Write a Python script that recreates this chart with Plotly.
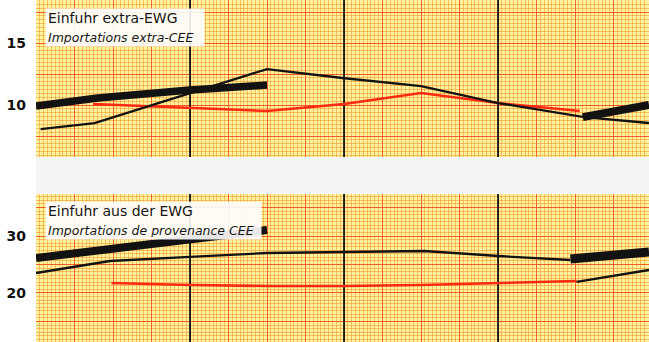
import plotly.graph_objects as go

# ---------------- data (x = years from left edge of the chart) ----------------
# Upper panel: Einfuhr extra-EWG / Importations extra-CEE
ext_trend1_x = [0.0, 0.40, 1.0, 1.5]
ext_trend1_y = [9.92, 10.56, 11.21, 11.61]
ext_trend2_x = [3.55, 3.98]
ext_trend2_y = [9.03, 10.0]
ext_black_x = [0.03, 0.38, 1.5, 1.99, 2.5, 3.0, 3.56, 3.98]
ext_black_y = [8.06, 8.55, 12.90, 12.18, 11.53, 10.16, 9.03, 8.55]
ext_red_x = [0.37, 1.0, 1.5, 2.0, 2.5, 3.0, 3.53]
ext_red_y = [10.08, 9.76, 9.52, 10.08, 10.97, 10.16, 9.52]

# Lower panel: Einfuhr aus der EWG / Importations de provenance CEE
int_trend1_x = [0.0, 1.5]
int_trend1_y = [26.14, 31.05]
int_trend2_x = [3.47, 3.98]
int_trend2_y = [25.96, 27.19]
int_black_x = [0.0, 0.48, 1.0, 1.5, 2.0, 2.52, 3.0, 3.47]
int_black_y = [23.51, 25.61, 26.32, 27.02, 27.19, 27.37, 26.49, 25.79]
int_red_x = [0.49, 1.0, 1.5, 2.0, 2.5, 3.0, 3.51]
int_red_y = [21.75, 21.40, 21.23, 21.23, 21.40, 21.75, 22.11]
int_black2_x = [3.51, 3.98]
int_black2_y = [21.93, 24.04]

top_ticks = [10, 15]
bottom_ticks = [20, 30]
year_lines = [1, 2, 3]

top_title = "Einfuhr extra-EWG"
top_sub = "Importations extra-CEE"
bot_title = "Einfuhr aus der EWG"
bot_sub = "Importations de provenance CEE"

# ---------------- style ----------------
W, H = 649, 342
L = 36
TOP_BOTTOM = 157   # px where upper panel ends
BOT_TOP = 194      # px where lower panel starts
X_RANGE = [0, 3.98]
TOP_RANGE = [5.81, 18.47]
BOT_RANGE = [11.40, 37.37]

BLACK = "#121212"
RED = "#ff2a12"
MAJOR = "rgba(242,75,30,0.85)"
MINOR = "rgba(240,145,40,0.55)"
BG = "#fff3a0"
FONT = "DejaVu Sans"

top_dom = [1 - TOP_BOTTOM / H, 1]
bot_dom = [0, 1 - BOT_TOP / H]

fig = go.Figure()


def add_line(x, y, xa, ya, color, width):
    fig.add_trace(go.Scatter(x=x, y=y, xaxis=xa, yaxis=ya, mode="lines",
                             line=dict(color=color, width=width),
                             hoverinfo="skip"))


# black year separators (drawn first, under the data lines)
for xa, ya, rng in (("x", "y", TOP_RANGE), ("x2", "y2", BOT_RANGE)):
    xs, ys = [], []
    for yr in year_lines:
        xs += [yr, yr, None]
        ys += [rng[0], rng[1], None]
    add_line(xs, ys, xa, ya, BLACK, 1.8)

# upper panel
add_line(ext_red_x, ext_red_y, "x", "y", RED, 2.4)
add_line(ext_black_x, ext_black_y, "x", "y", BLACK, 2.3)
add_line(ext_trend1_x, ext_trend1_y, "x", "y", BLACK, 7.5)
add_line(ext_trend2_x, ext_trend2_y, "x", "y", BLACK, 8)
# lower panel
add_line(int_red_x, int_red_y, "x2", "y2", RED, 2.6)
add_line(int_black_x, int_black_y, "x2", "y2", BLACK, 2.3)
add_line(int_black2_x, int_black2_y, "x2", "y2", BLACK, 2.3)
add_line(int_trend1_x, int_trend1_y, "x2", "y2", BLACK, 8)
add_line(int_trend2_x, int_trend2_y, "x2", "y2", BLACK, 9)

xgrid = dict(range=X_RANGE, showticklabels=False, ticks="", zeroline=False,
             showline=False, showgrid=True, tick0=0, dtick=0.25,
             gridcolor=MAJOR, gridwidth=1,
             minor=dict(dtick=0.025, showgrid=True, gridcolor=MINOR,
                        gridwidth=1))


def yaxis(rng, dom, anchor, labels, major, minor):
    vals = []
    v = 0.0
    while v <= rng[1]:
        if v >= rng[0]:
            vals.append(round(v, 4))
        v += major
    text = [str(int(t)) if any(abs(t - lab) < 1e-6 for lab in labels) else ""
            for t in vals]
    return dict(domain=dom, anchor=anchor, range=rng, tickmode="array",
                tickvals=vals, ticktext=text, ticks="", zeroline=False,
                showline=False, showgrid=True, gridcolor=MAJOR, gridwidth=1,
                ticklabelstandoff=9,
                tickfont=dict(family=FONT, size=14, color="#111111",
                              weight="bold"),
                minor=dict(tickmode="linear", tick0=0, dtick=minor,
                           showgrid=True, gridcolor=MINOR, gridwidth=1))


fig.update_layout(
    width=W, height=H,
    margin=dict(l=L, r=0, t=0, b=0, autoexpand=False),
    paper_bgcolor="white", plot_bgcolor=BG,
    showlegend=False,
    xaxis=dict(domain=[0, 1], anchor="y", **xgrid),
    xaxis2=dict(domain=[0, 1], anchor="y2", **xgrid),
    yaxis=yaxis(TOP_RANGE, top_dom, "x", top_ticks, 2.5, 0.3125),
    yaxis2=yaxis(BOT_RANGE, bot_dom, "x2", bottom_ticks, 5, 0.625),
)

fig.add_shape(type="rect", xref="paper", yref="paper", x0=0, x1=1,
              y0=bot_dom[1], y1=top_dom[0], fillcolor="#f4f4f4",
              line=dict(width=0), layer="above")


def label(title, sub, top_px, right_px):
    fig.add_annotation(
        xref="paper", yref="paper", x=(45 - L) / (W - L), y=1 - top_px / H,
        xanchor="left", yanchor="top", align="left", valign="middle",
        showarrow=False, width=right_px - 45 - 4, height=33,
        text=(f"{title}<br><i><span style='font-size:12.5px'>{sub}</span></i>"),
        font=dict(family=FONT, size=14, color="#161616"),
        bgcolor="rgba(255,255,255,0.9)", borderpad=2)


label(top_title, top_sub, 8, 203)
label(bot_title, bot_sub, 201, 260)

fig.write_html(
    "out.html",
    config={"displayModeBar": False},
    post_script="document.body.style.margin='0';document.body.style.padding='0';",
)
